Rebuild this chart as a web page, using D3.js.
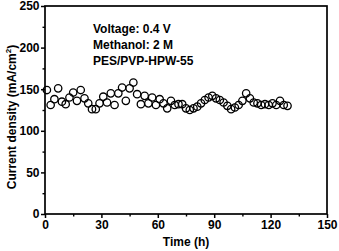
<!DOCTYPE html>
<html>
<head>
<meta charset="utf-8">
<script src="https://cdn.jsdelivr.net/npm/d3@7"></script>
<style>
  body { margin: 0; background: #fff; }
  text { font-family: "Liberation Sans", Arial, sans-serif; font-weight: bold; }
</style>
</head>
<body>
<svg id="chart"></svg>
<script>
const times = [1, 3, 5, 7, 9, 11, 13, 15, 17, 19, 21, 23, 25, 27, 29, 31, 33, 35, 37, 39,
  41, 43, 45, 47, 49, 51, 53, 55, 57, 59, 61, 63, 65, 67, 69, 71, 73, 75, 77, 79,
  81, 83, 85, 87, 89, 91, 93, 95, 97, 99, 101, 103, 105, 107, 109, 111, 113, 115, 117, 119,
  121, 123, 125, 127, 129]
const currentDensity = [149, 131, 138, 151, 135, 132, 140, 146, 136, 149, 139, 133, 126, 126, 133, 141, 134, 145, 131, 145,
  152, 136, 151, 158, 144, 132, 142, 133, 140, 131, 138, 133, 127, 136, 131, 132, 132, 127, 125, 127,
  129, 133, 137, 140, 142, 139, 137, 134, 130, 126, 128, 131, 136, 145, 139, 134, 133, 131, 132, 131,
  133, 131, 136, 131, 130]
const xTicks = [0, 30, 60, 90, 120, 150]
const yTicks = [0, 50, 100, 150, 200, 250]
const notes = ['Voltage: 0.4 V', 'Methanol: 2 M', 'PES/PVP-HPW-55']

const width = 339
const height = 251
const plotLeft = 45
const plotRight = 327
const plotTop = 6
const plotBottom = 214

const svg = d3.select('#chart').attr('width', width).attr('height', height)

const x = d3.scaleLinear().domain([0, 150]).range([plotLeft, plotRight])
const y = d3.scaleLinear().domain([0, 250]).range([plotBottom, plotTop])

// frame
svg.append('rect')
  .attr('x', plotLeft).attr('y', plotTop)
  .attr('width', plotRight - plotLeft).attr('height', plotBottom - plotTop)
  .attr('fill', 'none').attr('stroke', '#000').attr('stroke-width', 1.7)

// minor ticks
svg.append('g')
  .attr('transform', 'translate(0,' + plotBottom + ')')
  .call(d3.axisBottom(x).tickValues(d3.range(15, 150, 30)).tickSize(2.5).tickFormat(''))
  .call(g => g.select('.domain').remove())
  .call(g => g.selectAll('line').attr('stroke-width', 1.4))
svg.append('g')
  .attr('transform', 'translate(' + plotLeft + ',0)')
  .call(d3.axisLeft(y).tickValues(d3.range(25, 250, 50)).tickSize(2.5).tickFormat(''))
  .call(g => g.select('.domain').remove())
  .call(g => g.selectAll('line').attr('stroke-width', 1.4))

// major ticks
svg.append('g')
  .attr('transform', 'translate(0,' + plotBottom + ')')
  .call(d3.axisBottom(x).tickValues(xTicks).tickSize(4).tickPadding(2))
  .call(g => g.select('.domain').remove())
  .call(g => g.selectAll('line').attr('stroke-width', 1.5))
  .call(g => g.selectAll('text').attr('font-size', 12).attr('fill', '#000'))
svg.append('g')
  .attr('transform', 'translate(' + plotLeft + ',0)')
  .call(d3.axisLeft(y).tickValues(yTicks).tickSize(4).tickPadding(1.5))
  .call(g => g.select('.domain').remove())
  .call(g => g.selectAll('line').attr('stroke-width', 1.5))
  .call(g => g.selectAll('text').attr('font-size', 12).attr('fill', '#000'))

// points
svg.append('g')
  .selectAll('circle')
  .data(times)
  .enter()
  .append('circle')
  .attr('cx', d => x(d))
  .attr('cy', (d, i) => y(currentDensity[i]))
  .attr('r', 3.7)
  .attr('fill', 'none')
  .attr('stroke', '#000')
  .attr('stroke-width', 1.3)

// notes
svg.append('g')
  .selectAll('text')
  .data(notes)
  .enter()
  .append('text')
  .attr('x', 93)
  .attr('y', (d, i) => 33 + i * 16)
  .attr('font-size', 12)
  .text(d => d)

// axis titles
svg.append('text')
  .attr('x', (plotLeft + plotRight) / 2)
  .attr('y', 246)
  .attr('text-anchor', 'middle')
  .attr('font-size', 12)
  .text('Time (h)')

const yTitle = svg.append('text')
  .attr('transform', 'translate(16,117) rotate(-90)')
  .attr('text-anchor', 'middle')
  .attr('font-size', 12)
yTitle.append('tspan').text('Current density (mA/cm')
yTitle.append('tspan').attr('font-size', 8).attr('dy', -5).text('2')
yTitle.append('tspan').attr('dy', 5).text(')')
</script>
</body>
</html>
